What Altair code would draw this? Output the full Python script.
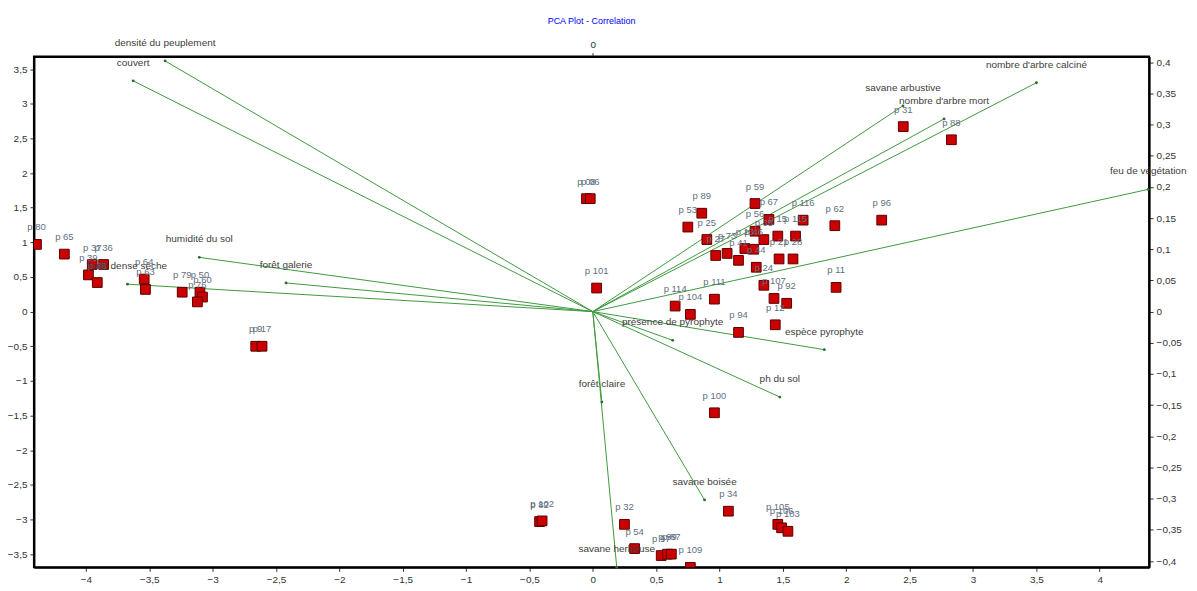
import altair as alt
import pandas as pd

FONT = "Liberation Sans"

# Observations (F1 / F2 scores)
pt_labels = ["p 80", "p 65", "p 39", "p 38", "p 37", "p 36", "p 64", "p 63", "p 79", "p 50",
             "p 60", "p 76", "p 9", "p 17",
             "p 08", "p 06", "p 101", "p 82", "p 102",
             "p 32", "p 54", "p 97", "p 99", "p 87", "p 109", "p 34", "p 105", "p 106", "p 103", "p 100",
             "p 31", "p 88", "p 59", "p 67", "p 89", "p 53", "p 116", "p 62", "p 96", "p 25",
             "p 56", "p 35", "p 15", "p 115", "p 27", "p 73", "p 13", "p 46", "p 41", "p 44",
             "p 21", "p 28", "p 11", "p 24", "p 92", "p 107", "p 111", "p 114", "p 104", "p 94", "p 12"]
pt_x = [-4.39, -4.17, -3.98, -3.91, -3.95, -3.86, -3.54, -3.53, -3.24, -3.10,
        -3.08, -3.12, -2.66, -2.61,
        -0.05, -0.02, 0.03, -0.42, -0.40,
        0.25, 0.33, 0.54, 0.59, 0.62, 0.77, 1.07, 1.46, 1.49, 1.54, 0.96,
        2.45, 2.83, 1.28, 1.39, 0.86, 0.75, 1.66, 1.91, 2.28, 0.90,
        1.28, 1.35, 1.46, 1.60, 0.97, 1.06, 1.20, 1.27, 1.15, 1.29,
        1.47, 1.58, 1.92, 1.35, 1.53, 1.43, 0.96, 0.65, 0.77, 1.15, 1.44]
pt_y = [0.97, 0.83, 0.53, 0.42, 0.68, 0.68, 0.47, 0.32, 0.28, 0.28,
        0.21, 0.14, -0.50, -0.50,
        1.63, 1.63, 0.34, -3.03, -3.02,
        -3.07, -3.42, -3.52, -3.50, -3.50, -3.69, -2.88, -3.07, -3.12, -3.17, -1.46,
        2.67, 2.48, 1.56, 1.33, 1.42, 1.22, 1.32, 1.24, 1.32, 1.04,
        1.16, 1.04, 1.09, 1.09, 0.81, 0.84, 0.91, 0.90, 0.74, 0.64,
        0.76, 0.76, 0.35, 0.38, 0.12, 0.19, 0.18, 0.08, -0.04, -0.30, -0.19]

# Variables (correlations with F1 / F2)
var_labels = ["densité du peuplement", "couvert", "humidité du sol", "forêt galerie",
              "forêt dense sèche", "savane arbustive", "nombre d'arbre mort",
              "nombre d'arbre calciné", "feu de végétation", "présence de pyrophyte",
              "espèce pyrophyte", "ph du sol", "savane boisée", "forêt claire",
              "savane herbeuse"]
var_x = [-0.375, -0.403, -0.345, -0.269, -0.408, 0.272, 0.308, 0.389, 0.487, 0.070,
         0.203, 0.164, 0.098, 0.008, 0.021]
var_y = [0.402, 0.370, 0.087, 0.046, 0.044, 0.330, 0.309, 0.367, 0.196, -0.046,
         -0.061, -0.137, -0.302, -0.145, -0.410]

x_ticks = [-4, -3.5, -3, -2.5, -2, -1.5, -1, -0.5, 0, 0.5, 1, 1.5, 2, 2.5, 3, 3.5, 4]
y_ticks = [-3.5, -3, -2.5, -2, -1.5, -1, -0.5, 0, 0.5, 1, 1.5, 2, 2.5, 3, 3.5]
r_ticks = [-0.4, -0.35, -0.3, -0.25, -0.2, -0.15, -0.1, -0.05, 0, 0.05, 0.1, 0.15,
           0.2, 0.25, 0.3, 0.35, 0.4]

pts = pd.DataFrame({"label": pt_labels, "x": pt_x, "y": pt_y})
vrs = pd.DataFrame({"label": var_labels, "x": var_x, "y": var_y})
vrs["x0"] = 0.0
vrs["y0"] = 0.0

X_DOM = [-4.41, 4.39]
Y_DOM = [-3.69, 3.68]
CX_DOM = [X_DOM[0] / 9, X_DOM[1] / 9]
CY_DOM = [Y_DOM[0] / 9, Y_DOM[1] / 9]

sx = alt.Scale(domain=X_DOM, nice=False, zero=False)
sy = alt.Scale(domain=Y_DOM, nice=False, zero=False)
cx = alt.Scale(domain=CX_DOM, nice=False, zero=False)
cy = alt.Scale(domain=CY_DOM, nice=False, zero=False)

lab = "replace(datum.label, '.', ',')"
common = dict(grid=False, title=None, format="~g", labelExpr=lab, labelFont=FONT,
              labelFontSize=10, labelColor="#333333", tickColor="#333333",
              domainColor="black", domainWidth=2, tickSize=4, labelPadding=3)

ax_bottom = alt.Axis(orient="bottom", values=x_ticks, **common)
ax_left = alt.Axis(orient="left", values=y_ticks, **common)
ax_top = alt.Axis(orient="top", values=[0], **common)
ax_right = alt.Axis(orient="right", values=r_ticks, **common)

rules = alt.Chart(vrs).mark_rule(color="#3f9a3f", strokeWidth=1).encode(
    x=alt.X("x0:Q", scale=cx, axis=ax_top),
    y=alt.Y("y0:Q", scale=cy, axis=ax_right),
    x2="x:Q",
    y2="y:Q",
)
tips = alt.Chart(vrs).mark_point(filled=True, size=8, color="#2b6b2b", opacity=1).encode(
    x=alt.X("x:Q", scale=cx, axis=None),
    y=alt.Y("y:Q", scale=cy, axis=None),
)
vtxt = alt.Chart(vrs).mark_text(dy=-18, fontSize=10, font=FONT, color="#404040").encode(
    x=alt.X("x:Q", scale=cx, axis=None),
    y=alt.Y("y:Q", scale=cy, axis=None),
    text="label:N",
)
squares = alt.Chart(pts).mark_square(size=95, color="#cc0000", stroke="#5a0000",
                                     strokeWidth=1, opacity=1, clip=True).encode(
    x=alt.X("x:Q", scale=sx, axis=ax_bottom),
    y=alt.Y("y:Q", scale=sy, axis=ax_left),
)
ptxt = alt.Chart(pts).mark_text(dy=-17, fontSize=9.5, font=FONT, color="#5f6f80").encode(
    x=alt.X("x:Q", scale=sx, axis=None),
    y=alt.Y("y:Q", scale=sy, axis=None),
    text="label:N",
)

chart = alt.layer(rules, squares, tips, ptxt, vtxt).resolve_scale(
    x="independent", y="independent"
).properties(
    width=1118,
    height=512,
    title=alt.TitleParams("PCA Plot - Correlation", color="#0000ff", fontSize=9,
                          fontWeight="normal", font=FONT, anchor="middle", offset=12),
    autosize=alt.AutoSizeParams(type="none"),
    padding={"left": 26, "top": 48, "right": 40, "bottom": 20},
).configure_view(stroke="black", strokeWidth=2)

chart.save("out.html", embed_options={"renderer": "svg", "actions": False})
